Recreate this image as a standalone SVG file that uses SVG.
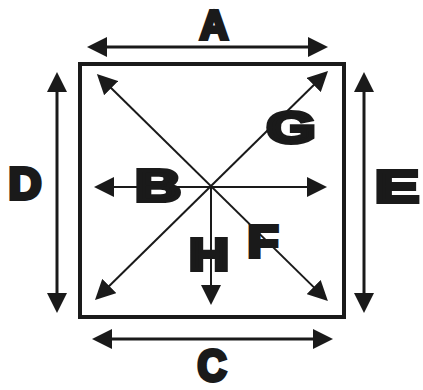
<svg xmlns="http://www.w3.org/2000/svg" width="423" height="390" viewBox="0 0 423 390">
<style>
.lbl{font-family:"Liberation Sans",Arial,sans-serif;font-weight:bold;font-size:44px;fill:#1a1a1a;stroke:#1a1a1a;stroke-width:4;stroke-linejoin:miter;text-anchor:middle}
.small{font-size:40px}
.outer{stroke:#1a1a1a;stroke-width:3;fill:none}
.inner{stroke:#1a1a1a;stroke-width:2;fill:none}
</style>
<defs>
<marker id="ah" viewBox="0 0 20 20" refX="4" refY="10" markerWidth="20" markerHeight="20" markerUnits="userSpaceOnUse" orient="auto-start-reverse">
<path d="M0,0 L20,10 L0,20 z" fill="#1a1a1a"/>
</marker>
</defs>
<rect width="423" height="390" fill="#ffffff"/>
<g id="box"><rect x="80" y="64" width="264" height="253" fill="none" stroke="#1a1a1a" stroke-width="4"/></g>
<g id="connectors">
<line class="outer" x1="103" y1="47" x2="312" y2="47" marker-start="url(#ah)" marker-end="url(#ah)"/>
<line class="outer" x1="108" y1="339" x2="317" y2="339" marker-start="url(#ah)" marker-end="url(#ah)"/>
<line class="outer" x1="57" y1="88" x2="57" y2="297" marker-start="url(#ah)" marker-end="url(#ah)"/>
<line class="outer" x1="364" y1="88" x2="364" y2="297" marker-start="url(#ah)" marker-end="url(#ah)"/>
<line class="inner" x1="110" y1="187" x2="311" y2="187" marker-start="url(#ah)" marker-end="url(#ah)"/>
<line class="inner" x1="108.3" y1="85.3" x2="316.5" y2="289.9" marker-start="url(#ah)" marker-end="url(#ah)"/>
<line class="inner" x1="316.6" y1="82.2" x2="106.4" y2="288.8" marker-start="url(#ah)" marker-end="url(#ah)"/>
<line class="inner" x1="211" y1="187" x2="211" y2="289" marker-end="url(#ah)"/>
</g>
<g id="label-A"><text class="lbl small" x="214" y="39" textLength="28" lengthAdjust="spacingAndGlyphs">A</text></g>
<g id="label-B"><text class="lbl" x="158" y="201" textLength="46" lengthAdjust="spacingAndGlyphs">B</text></g>
<g id="label-C"><text class="lbl" x="212" y="381" textLength="29" lengthAdjust="spacingAndGlyphs">C</text></g>
<g id="label-D"><text class="lbl" x="25" y="199" textLength="33" lengthAdjust="spacingAndGlyphs">D</text></g>
<g id="label-E"><text class="lbl" x="397" y="202" textLength="44" lengthAdjust="spacingAndGlyphs">E</text></g>
<g id="label-F"><text class="lbl" x="263" y="257" textLength="31" lengthAdjust="spacingAndGlyphs">F</text></g>
<g id="label-G"><text class="lbl" x="291" y="143" textLength="49" lengthAdjust="spacingAndGlyphs">G</text></g>
<g id="label-H"><text class="lbl" x="209" y="270" textLength="40" lengthAdjust="spacingAndGlyphs">H</text></g>
</svg>
